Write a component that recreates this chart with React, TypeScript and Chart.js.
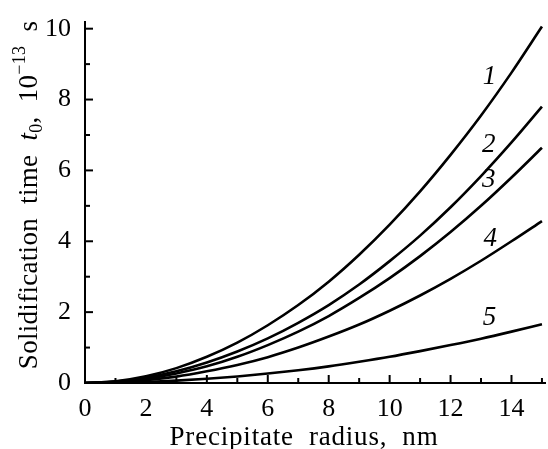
import { useEffect, useRef } from 'react';
import { Chart, registerables } from 'chart.js';
Chart.register(...registerables);

const radius = [0, 1, 2, 3, 4, 5, 6, 7, 8, 9, 10, 11, 12, 13, 14, 15];
const curve1 = [0, 0.05, 0.19, 0.42, 0.74, 1.14, 1.63, 2.2, 2.86, 3.62, 4.47, 5.41, 6.44, 7.55, 8.76, 10.06];
const curve2 = [0, 0.04, 0.15, 0.33, 0.58, 0.89, 1.26, 1.7, 2.2, 2.78, 3.44, 4.16, 4.96, 5.84, 6.79, 7.8];
const curve3 = [0, 0.03, 0.12, 0.27, 0.47, 0.74, 1.07, 1.45, 1.89, 2.4, 2.96, 3.58, 4.26, 5.0, 5.8, 6.64];
const curve4 = [0, 0.02, 0.08, 0.18, 0.33, 0.51, 0.73, 1.0, 1.31, 1.65, 2.04, 2.47, 2.94, 3.45, 4.0, 4.57];
const curve5 = [0, 0.007, 0.03, 0.067, 0.12, 0.185, 0.266, 0.36, 0.47, 0.6, 0.74, 0.9, 1.07, 1.25, 1.45, 1.66];

const curveLabels = ['1', '2', '3', '4', '5'];
const curveLabelX = [13.28, 13.25, 13.25, 13.3, 13.28];
const curveLabelY = [8.64, 6.72, 5.74, 4.06, 1.84];

const xTickValues = [0, 2, 4, 6, 8, 10, 12, 14];
const yTickValues = [0, 2, 4, 6, 8, 10];
const xMinorTicks = [1, 3, 5, 7, 9, 11, 13, 15];
const yMinorTicks = [1, 3, 5, 7, 9];

const xTitle = 'Precipitate  radius,  nm';
const yTitleParts = ['Solidification  time  ', 't', '0', ',  10', '\u221213', '  s'];

const FAMILY = '"Liberation Serif", "Times New Roman", serif';

function drawRich(ctx: CanvasRenderingContext2D, segs: { text: string; font: string; dy: number }[], x: number, y: number, rotate: boolean, spacing: string) {
  ctx.save();
  ctx.translate(x, y);
  if (rotate) ctx.rotate(-Math.PI / 2);
  (ctx as any).letterSpacing = spacing;
  ctx.fillStyle = '#000';
  ctx.textBaseline = 'alphabetic';
  ctx.textAlign = 'left';
  let total = 0;
  const widths = segs.map((s) => {
    ctx.font = s.font;
    const w = ctx.measureText(s.text).width;
    total += w;
    return w;
  });
  let cx = -total / 2;
  segs.forEach((s, i) => {
    ctx.font = s.font;
    ctx.fillText(s.text, cx, s.dy);
    cx += widths[i];
  });
  ctx.restore();
}

const decorPlugin = {
  id: 'decor',
  afterDraw(chart: any) {
    const ctx: CanvasRenderingContext2D = chart.ctx;
    const xs = chart.scales.x;
    const ys = chart.scales.y;
    const area = chart.chartArea;
    ctx.save();
    ctx.strokeStyle = '#000';
    ctx.lineWidth = 2;
    const drawX = (v: number, len: number) => {
      const px = xs.getPixelForValue(v);
      ctx.beginPath();
      ctx.moveTo(px, area.bottom);
      ctx.lineTo(px, area.bottom - len);
      ctx.stroke();
    };
    const drawY = (v: number, len: number) => {
      const py = ys.getPixelForValue(v);
      ctx.beginPath();
      ctx.moveTo(area.left, py);
      ctx.lineTo(area.left + len, py);
      ctx.stroke();
    };
    xTickValues.forEach((v) => drawX(v, 8));
    xMinorTicks.forEach((v) => drawX(v, 5));
    yTickValues.forEach((v) => drawY(v, 8));
    yMinorTicks.forEach((v) => drawY(v, 5));

    ctx.fillStyle = '#000';
    ctx.font = `italic 27px ${FAMILY}`;
    ctx.textAlign = 'center';
    ctx.textBaseline = 'middle';
    curveLabels.forEach((t, i) => {
      ctx.fillText(t, xs.getPixelForValue(curveLabelX[i]), ys.getPixelForValue(curveLabelY[i]));
    });
    ctx.restore();

    drawRich(ctx, [{ text: xTitle, font: `27px ${FAMILY}`, dy: 0 }], 304, 445, false, '0.8px');
    drawRich(
      ctx,
      [
        { text: yTitleParts[0], font: `27px ${FAMILY}`, dy: 0 },
        { text: yTitleParts[1], font: `italic 27px ${FAMILY}`, dy: 0 },
        { text: yTitleParts[2], font: `18px ${FAMILY}`, dy: 5 },
        { text: yTitleParts[3], font: `27px ${FAMILY}`, dy: 0 },
        { text: yTitleParts[4], font: `18px ${FAMILY}`, dy: -12 },
        { text: yTitleParts[5], font: `27px ${FAMILY}`, dy: 0 },
      ],
      37,
      195,
      true,
      '0.3px'
    );
  },
};

export default function App() {
  const ref = useRef<HTMLCanvasElement | null>(null);
  useEffect(() => {
    document.body.style.margin = '0';
    const mk = (d: number[]) => ({
      data: radius.map((r, i) => ({ x: r, y: d[i] })),
      borderColor: '#000',
      borderWidth: 2.6,
      pointRadius: 0,
      fill: false,
      cubicInterpolationMode: 'monotone' as const,
    });
    const chart = new Chart(ref.current!, {
      type: 'line',
      data: { datasets: [mk(curve1), mk(curve2), mk(curve3), mk(curve4), mk(curve5)] },
      options: {
        animation: false,
        responsive: false,
        layout: { padding: { top: 13, right: 3, left: 0, bottom: 0 } },
        plugins: { legend: { display: false }, tooltip: { enabled: false } },
        scales: {
          x: {
            type: 'linear',
            min: 0,
            max: 15.1,
            afterBuildTicks: (s: any) => {
              s.ticks = xTickValues.map((v) => ({ value: v }));
            },
            afterFit: (s: any) => {
              s.height = 66;
            },
            ticks: {
              font: { family: FAMILY, size: 26 },
              color: '#000',
              padding: 3,
              maxRotation: 0,
              autoSkip: false,
              callback: (v: any) => String(v),
            },
            grid: { display: false },
            border: { display: true, color: '#000', width: 2 },
          },
          y: {
            type: 'linear',
            min: 0,
            max: 10.2,
            afterBuildTicks: (s: any) => {
              s.ticks = yTickValues.map((v) => ({ value: v }));
            },
            afterFit: (s: any) => {
              s.width = 85;
            },
            ticks: {
              font: { family: FAMILY, size: 26 },
              color: '#000',
              padding: 6,
              callback: (v: any) => String(v),
            },
            grid: { display: false },
            border: { display: true, color: '#000', width: 2 },
          },
        },
      },
      plugins: [decorPlugin],
    });
    return () => chart.destroy();
  }, []);
  return (
    <div style={{ position: 'absolute', left: 0, top: 0, width: 548, height: 449, background: '#fff' }}>
      <canvas ref={ref} width={548} height={449} />
    </div>
  );
}
